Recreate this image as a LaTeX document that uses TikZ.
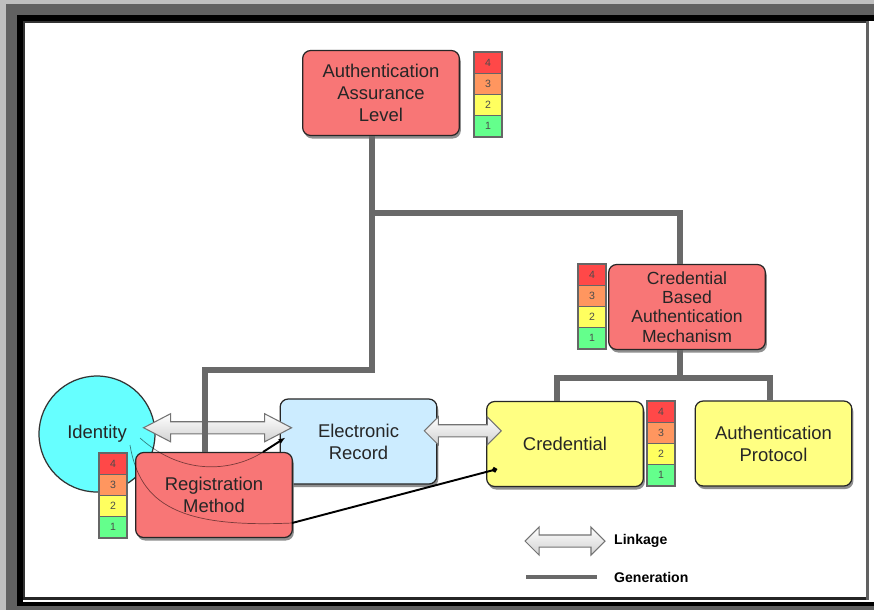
\documentclass[tikz,border=0pt]{standalone}
\usepackage{fontspec}
\setmainfont{Liberation Sans}
\usepackage{tikz}
\usetikzlibrary{arrows.meta,positioning,calc,shapes.arrows,shadows}

\definecolor{boxred}{RGB}{248,118,118}
\definecolor{boxblue}{RGB}{204,236,255}
\definecolor{boxyellow}{RGB}{255,255,130}
\definecolor{idcyan}{RGB}{102,255,255}
\definecolor{lvfour}{RGB}{255,72,72}
\definecolor{lvthree}{RGB}{255,150,95}
\definecolor{lvtwo}{RGB}{255,255,95}
\definecolor{lvone}{RGB}{100,255,140}
\definecolor{treegray}{RGB}{105,105,105}

\begin{document}
\begin{tikzpicture}[x=0.02cm, y=-0.02cm,
    box/.style={rectangle, rounded corners=0.16cm, draw=black!85, line width=0.7pt, minimum width=3.04cm, minimum height=1.7cm, text width=2.9cm, align=center, font=\fontsize{10.5}{12.5}\selectfont, text=black!85, drop shadow={shadow xshift=0.03cm, shadow yshift=-0.06cm, fill=black!55, opacity=0.8}},
    lvl/.style={rectangle, draw=black!60, line width=0.6pt, minimum width=0.56cm, minimum height=0.425cm, inner sep=0pt, font=\fontsize{6}{6}\selectfont, text=black!70},
    link/.style={double arrow, draw=black!55, line width=0.6pt, top color=white, bottom color=black!18, inner sep=0.11cm, double arrow head extend=0.16cm},
    tree/.style={draw=treegray, line width=0.11cm},
    genthin/.style={draw=black, draw opacity=0.5, line width=0.4pt},
    gen/.style={draw=black, line width=1.1pt}
]
\useasboundingbox (0,0) rectangle (874,610);

% Cadre
\fill[white] (0,0) rectangle (874,610);
\fill[black!25] (0,0) rectangle (874,4);
\fill[black!25] (0,0) rectangle (6,610);
\fill[black!62] (6,4) rectangle (874,15);
\fill[black!62] (6,4) rectangle (17,610);
\fill[black!62] (17,606) rectangle (874,610);
\fill[black] (17,15) rectangle (874,21);
\fill[black] (17,15) rectangle (23,606);
\fill[black] (23,602) rectangle (874,606);
\fill[black!80] (23,21) rectangle (866,23);
\fill[black!80] (23,21) rectangle (25,597);
\fill[black!85] (23,597) rectangle (869,600);
\fill[black!62] (866,21) rectangle (869,600);

% Identite
\node[circle, draw=black!80, line width=0.7pt, fill=idcyan, minimum size=2.32cm, text=black!85, font=\fontsize{10.5}{12.5}\selectfont] (id) at (97,434) {Identity};

% Boites
\node[box, fill=boxred] (aal) at (381,93) {Authentication\\Assurance\\Level};
\node[box, fill=boxred, font=\fontsize{10}{11}\selectfont] (cbam) at (687,307) {Credential\\Based\\Authentication\\Mechanism};
\node[box, fill=boxblue] (er) at (358.5,441.5) {Electronic\\Record};
\node[box, fill=boxyellow] (cred) at (565,444) {Credential};
\node[box, fill=boxyellow] (ap) at (773.5,443.5) {Authentication\\Protocol};
\node[box, fill=boxred] (rm) at (214,495) {Registration\\Method};

% Niveaux
\foreach \s/\x/\y in {aal/474/52, cbam/578/264, cred/647/401, rm/99/453} {
    \foreach \n/\c [count=\i from 0] in {4/lvfour, 3/lvthree, 2/lvtwo, 1/lvone}
        \node[lvl, fill=\c] (\s\n) at (\x+14, \y+10.6+21.25*\i) {\n};
}

% Liaisons
\node[link, minimum height=2.96cm, double arrow tip angle=55] (lk1) at ($(id.east)!0.5!(er.west)+(0,-10)$) {};
\node[link, minimum height=1.54cm] (lk2) at ($(er.east)!0.5!(cred.west)+(1,-12)$) {};

% Generation
\coordinate (top) at (372,213);
\coordinate (rmj) at (205,370);
\coordinate (low) at (680,378);
\coordinate (lowl) at (557,378);
\coordinate (lowr) at (770,378);
\draw[tree] (aal.south -| top) -- (top) -| ($(cbam.north)+(-7,0)$);
\draw[tree] (top) |- (rmj) -- (rmj |- rm.north);
\draw[tree] (cbam.south -| low) -- (low);
\draw[tree] (lowl |- cred.north) -- (lowl) -- (lowr) -- (lowr |- ap.north);

% Lignes fines
\coordinate (g1) at (263,452);
\coordinate (g2) at (292,523);
\draw[genthin] ($(id.center)+(43,4)$) .. controls (185,478) and (235,470) .. (g1);
\draw[gen, -{Latex[length=4pt,width=3pt]}] (g1) -- ($(er.west)+(6,-4)$);
\draw[genthin] ($(id.center)+(33,11)$) .. controls (140,505) and (180,528) .. (g2);
\draw[gen, -{Circle[length=3pt]}] (g2) -- ($(cred.south west)+(11,-18)$);

% Legende
\node[link, minimum height=1.6cm] (lglink) at (565,541) {};
\node[anchor=west, font=\bfseries\fontsize{8}{9}\selectfont] (lglinktxt) at (608,541) {Linkage};
\coordinate (lggen1) at (526,577);
\coordinate (lggen2) at (597,577);
\draw[tree, line width=0.07cm] (lggen1) -- (lggen2);
\node[anchor=west, font=\bfseries\fontsize{8}{9}\selectfont] (lggentxt) at (608,577) {Generation};

\end{tikzpicture}
\end{document}
